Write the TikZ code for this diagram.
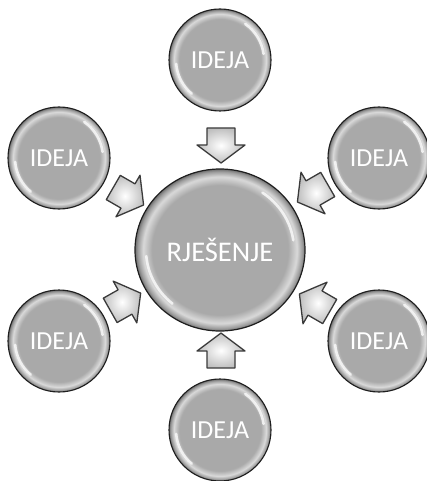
\documentclass[tikz,border=0pt]{standalone}
\usepackage{fontspec}
\setmainfont{Carlito}
\usetikzlibrary{shapes.geometric,calc}
\definecolor{ballgray}{HTML}{A9A9A9}
\definecolor{balllight}{HTML}{D9D9D9}
\definecolor{ballmid}{HTML}{9C9C9C}
\definecolor{balldark}{HTML}{6E6E6E}
\definecolor{rimcol}{HTML}{1E1E1E}
\definecolor{arrline}{HTML}{3A3A3A}
\pgfdeclareradialshading{ball}{\pgfpoint{0bp}{0bp}}{color(0bp)=(ballgray); color(20bp)=(ballgray); color(22.6bp)=(balllight); color(24.2bp)=(ballmid); color(25bp)=(balldark); color(50bp)=(balldark)}
\begin{document}
\begin{tikzpicture}[x=1pt,y=-1pt,
  idea/.style={circle, minimum size=102pt, inner sep=0pt, shading=ball,
    draw=rimcol, line width=1.1pt, text=white,
    font=\fontsize{26}{26}\selectfont},
  mainball/.style={ellipse, minimum width=170pt, minimum height=162pt, inner sep=0pt,
    shading=ball, draw=rimcol, line width=1.2pt, text=white,
    font=\fontsize{28.5}{28.5}\selectfont},
  blockarrow/.style={draw=arrline, line width=1.3pt, line join=round,
    inner color=white, outer color=black!25},
  hl/.style={white, opacity=0.75, line width=2.6pt, line cap=round}
]
\useasboundingbox (0,0) rectangle (427,481);
% nodes
\node[mainball] (c) at (220,250) {RJEŠENJE};
\node[idea] (i1) at (220,60) {IDEJA};
\node[idea] (i2) at (379,158) {IDEJA};
\node[idea] (i3) at (379,341) {IDEJA};
\node[idea] (i4) at (220,430) {IDEJA};
\node[idea] (i5) at (59,341) {IDEJA};
\node[idea] (i6) at (59,158) {IDEJA};
% highlights
\foreach \n in {i1,i2,i3,i4,i5,i6}{
  \draw[hl] ($(\n.center)+(175:44)$) arc[start angle=175, end angle=130, radius=44];
  \draw[hl] ($(\n.center)+(-55:44)$) arc[start angle=-55, end angle=-8, radius=44];
}
\draw[hl] ($(c.center)+(175:74 and 70)$) arc[start angle=175, end angle=130, x radius=74, y radius=70];
\draw[hl] ($(c.center)+(-55:74 and 70)$) arc[start angle=-55, end angle=-8, x radius=74, y radius=70];
% block arrows
\coordinate (a1) at (221,145);
\coordinate (a2) at (313,193);
\coordinate (a3) at (315,303);
\coordinate (a4) at (221,351);
\coordinate (a5) at (125,302);
\coordinate (a6) at (128,196);
\foreach \a/\r in {a1/-90, a2/-150, a3/150, a4/90, a5/29.5, a6/-30}{
  \draw[blockarrow, shift={(\a)}, rotate=\r]
    (-17,-14) -- (0,-14) -- (0,-24) -- (18,0) -- (0,24) -- (0,14) -- (-17,14) -- cycle;
}
\end{tikzpicture}
\end{document}
